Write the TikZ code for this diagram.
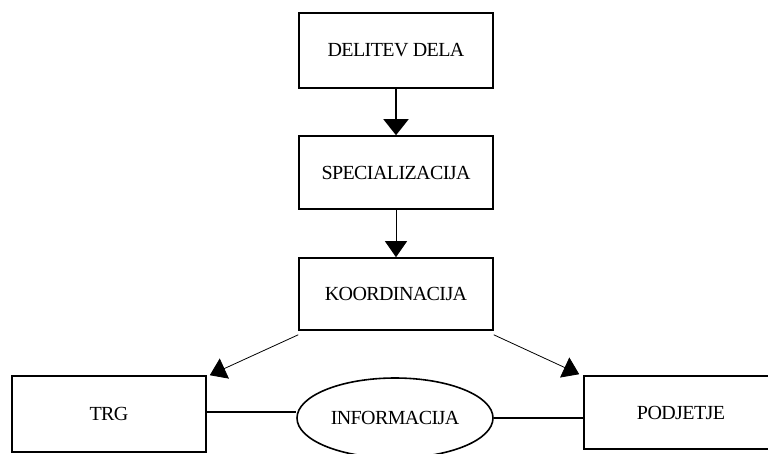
\documentclass[tikz,border=0pt]{standalone}
\usepackage{fontspec}
\setmainfont{Liberation Serif}
\newfontfamily\labelfont[LetterSpace=-3]{Liberation Serif}
\usetikzlibrary{arrows.meta,shapes.geometric}
\begin{document}
\begin{tikzpicture}[x=1pt,y=-1pt,
  box/.style={draw, line width=1.6pt, rectangle, minimum width=194pt, minimum height=75pt,
              inner sep=0pt, font=\labelfont\fontsize{20}{22}\selectfont},
  oval/.style={draw, line width=1.6pt, ellipse, minimum width=196pt, minimum height=80pt,
               inner sep=0pt, font=\labelfont\fontsize{20}{22}\selectfont},
  bighead/.style={-{Triangle[length=16pt,width=25pt]}},
  smallhead/.style={-{Triangle[length=16pt,width=22pt]}},
  link/.style={line width=1.6pt}]
  \useasboundingbox (0,0) rectangle (768,453);
  \begin{scope}
  \clip (0,0) rectangle (768,453);
  % main chain
  \node[box, minimum height=75pt] (delitev) at (396,50.5) {DELITEV DELA};
  \node[box, minimum height=73pt] (spec) at (396,172.5) {SPECIALIZACIJA};
  \node[box, minimum height=72pt] (koord) at (396,294) {KOORDINACIJA};
  % lower row
  \node[box, minimum height=76pt] (trg) at (109,414) {TRG};
  \node[oval] (info) at (395,418) {INFORMACIJA};
  \node[box, minimum height=73pt] (pod) at (681,412.5) {PODJETJE};
  % connectors
  \draw[bighead, line width=1.8pt] (delitev.south) -- (spec.north);
  \draw[smallhead, line width=0.9pt] (spec.south) -- (koord.north);
  \draw[smallhead, line width=0.8pt] ([yshift=-4pt]koord.south west) -- ([xshift=3pt]trg.north east);
  \draw[smallhead, line width=0.8pt] ([yshift=-4pt]koord.south east) -- ([xshift=-4pt,yshift=1pt]pod.north west);
  \coordinate (trgport) at ([yshift=2pt]trg.east);
  \draw[link] (trgport) -- (info.west |- trgport);
  \draw[link] (info.east) -- (info.east -| pod.west);
  \end{scope}
\end{tikzpicture}
\end{document}
